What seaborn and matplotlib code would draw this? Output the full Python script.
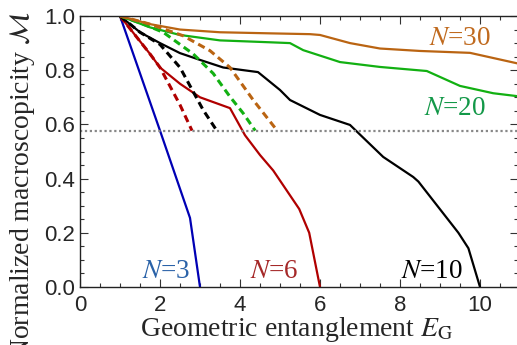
import matplotlib
matplotlib.use("Agg")
import matplotlib.pyplot as plt
from matplotlib.ticker import MultipleLocator
import seaborn as sns
import pandas as pd

# ---- data ----
n3_x = [1, 2, 2.75, 3]
n3_y = [1, 0.577, 0.255, 0]

n6_x = [1, 1.75, 2, 2.5, 3, 3.75, 4.125, 4.5, 4.83, 5.48, 5.73, 6]
n6_y = [1, 0.86, 0.81, 0.75, 0.70, 0.66, 0.56, 0.487, 0.43, 0.288, 0.2, 0]
n6d_x = [1, 1.75, 2, 2.5, 2.8]
n6d_y = [1, 0.86, 0.81, 0.672, 0.577]

n10_x = [1, 1.5, 2, 2.5, 3, 3.58, 4.45, 5.0, 5.25, 6, 6.75, 7.58, 8.33, 8.46, 9.46, 9.71, 10]
n10_y = [1, 0.94, 0.90, 0.863, 0.838, 0.81, 0.793, 0.727, 0.69, 0.635, 0.598, 0.48, 0.406, 0.389, 0.2, 0.143, 0]
n10d_x = [1, 1.5, 2, 2.5, 3.08, 3.42]
n10d_y = [1, 0.94, 0.895, 0.81, 0.653, 0.577]

n20_x = [1, 1.75, 2.5, 3.5, 4.75, 5.25, 5.58, 6.5, 7.5, 8.67, 9.5, 10.33, 11]
n20_y = [1, 0.958, 0.93, 0.91, 0.903, 0.90, 0.874, 0.83, 0.812, 0.797, 0.742, 0.715, 0.703]
n20d_x = [1, 1.5, 2.08, 2.83, 3.33, 3.75, 4.08, 4.38]
n20d_y = [1, 0.975, 0.94, 0.86, 0.788, 0.702, 0.641, 0.577]

n30_x = [1, 1.75, 2.5, 3.5, 4.75, 5.75, 6, 6.75, 7.5, 8.5, 9.75, 10.33, 11]
n30_y = [1, 0.97, 0.95, 0.94, 0.936, 0.933, 0.93, 0.90, 0.88, 0.871, 0.864, 0.845, 0.823]
n30d_x = [1, 1.75, 2.58, 3.25, 3.75, 4.33, 4.93]
n30d_y = [1, 0.97, 0.927, 0.872, 0.81, 0.69, 0.577]

threshold = 0.577

labels = ["$N$=3", "$N$=6", "$N$=10", "$N$=20", "$N$=30"]
label_x = [2.15, 4.85, 8.8, 9.375, 9.5]
label_y = [0.035, 0.035, 0.035, 0.635, 0.893]

xticks = [0, 2, 4, 6, 8, 10]
yticks = [0.0, 0.2, 0.4, 0.6, 0.8, 1.0]

# ---- style ----
sns.set_style("ticks")
plt.rcParams["font.family"] = ["Liberation Sans", "DejaVu Sans"]
plt.rcParams["mathtext.fontset"] = "stix"
plt.rcParams["xtick.direction"] = "in"
plt.rcParams["ytick.direction"] = "in"

c_blue = "#0000B4"
c_red = "#B00000"
c_black = "#000000"
c_green = "#12B012"
c_brown = "#BA6412"

fig = plt.figure(figsize=(5.17, 3.45), dpi=100)
ax = fig.add_axes([80 / 517, 58 / 345, 438 / 517, 271 / 345])

solid_lw = 1.6
dash_lw = 2.2
dash_ls = (0, (2.4, 1.5))

curves = [
    (n3_x, n3_y, c_blue, "-", solid_lw),
    (n6d_x, n6d_y, c_red, dash_ls, dash_lw),
    (n6_x, n6_y, c_red, "-", solid_lw),
    (n10d_x, n10d_y, c_black, dash_ls, dash_lw),
    (n10_x, n10_y, c_black, "-", solid_lw),
    (n20d_x, n20d_y, c_green, dash_ls, dash_lw),
    (n20_x, n20_y, c_green, "-", solid_lw),
    (n30d_x, n30d_y, c_brown, dash_ls, dash_lw),
    (n30_x, n30_y, c_brown, "-", solid_lw),
]
for xs, ys, col, ls, lw in curves:
    df = pd.DataFrame({"x": xs, "y": ys})
    sns.lineplot(data=df, x="x", y="y", ax=ax, color=col, linestyle=ls,
                 linewidth=lw, sort=False, estimator=None)

ax.axhline(threshold, color="#888888", linestyle=(0, (1.0, 1.2)), linewidth=1.6)

label_colors = ["#2A62A8", "#A52828", "#000000", "#139848", "#C06A1E"]
for t, lx, ly, lc in zip(labels, label_x, label_y, label_colors):
    ax.text(lx, ly, t, color=lc, fontsize=19.5, family="Liberation Serif",
            ha="center", va="baseline")

ax.set_xlim(0, 10.95)
ax.set_ylim(0, 1.0)
ax.set_xticks(xticks)
ax.set_yticks(yticks)
ax.set_xticklabels([str(v) for v in xticks])
ax.set_yticklabels([f"{v:.1f}" for v in yticks])
ax.xaxis.set_minor_locator(MultipleLocator(0.5))
ax.yaxis.set_minor_locator(MultipleLocator(0.05))
ax.tick_params(which="both", top=True, right=True, direction="in", width=0.8,
               color="#333333")
ax.tick_params(which="major", length=5.5, labelsize=16)
ax.tick_params(which="minor", length=2.8)
ax.tick_params(axis="y", which="major", pad=3.5)
ax.tick_params(axis="x", which="major", pad=6)
for s in ax.spines.values():
    s.set_linewidth(1.0)
    s.set_color("#222222")

ax.set_xlabel(r"Geometric entanglement $E_\mathrm{G}$", fontsize=20,
              family="Liberation Serif")
ax.set_ylabel(r"Normalized macroscopicity $\mathcal{M}$", fontsize=20,
              family="Liberation Serif")
ax.xaxis.set_label_coords(0.4955, -0.102)
ax.xaxis.label.set_va("top")
ax.yaxis.set_label_coords(-0.098, 0.375)

fig.savefig("out.png", dpi=100)
